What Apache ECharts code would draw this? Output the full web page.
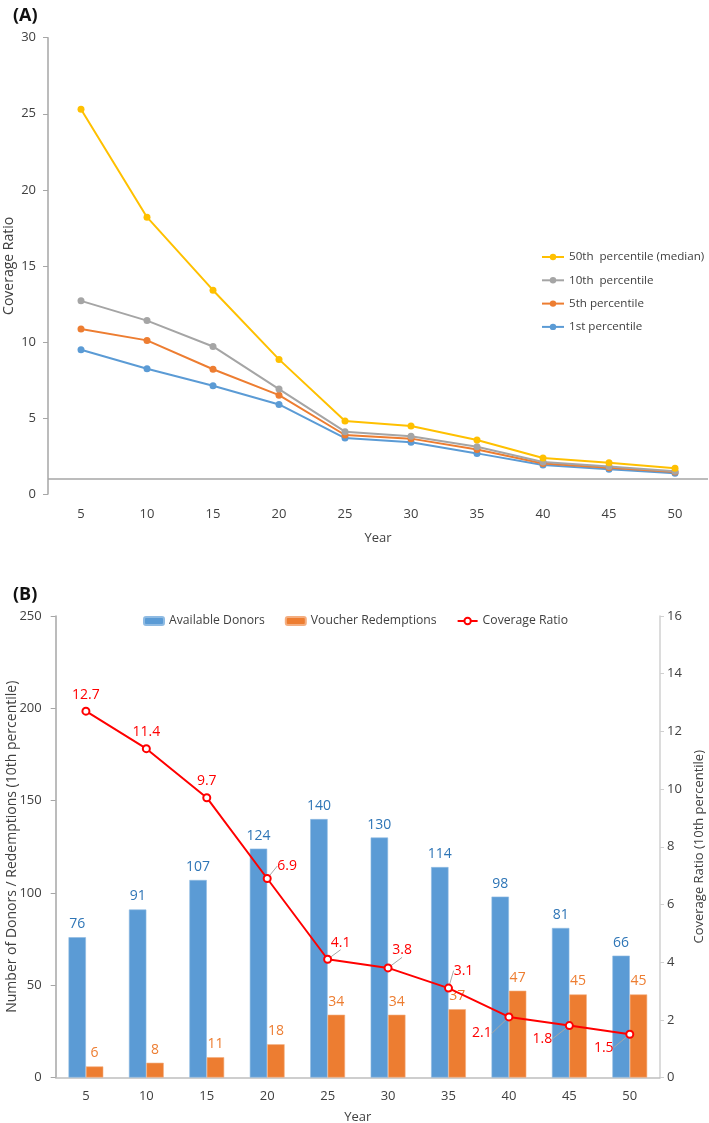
<!DOCTYPE html>
<html>
<head>
<meta charset="utf-8">
<script src="https://cdn.jsdelivr.net/npm/echarts@6/dist/echarts.min.js"></script>
<style>
  html, body { margin: 0; padding: 0; background: #fff; }
  #chart { width: 709px; height: 1123px; }
</style>
</head>
<body>
<div id="chart"></div>
<script>
// Years on the x axis (both panels)
const years = ['5', '10', '15', '20', '25', '30', '35', '40', '45', '50'];

// Panel A: coverage ratio by percentile
const p50 = [25.3, 18.2, 13.4, 8.85, 4.8, 4.47, 3.55, 2.37, 2.06, 1.69];
const p10 = [12.7, 11.4, 9.7, 6.9, 4.1, 3.8, 3.1, 2.1, 1.8, 1.5];
const p5 = [10.85, 10.1, 8.2, 6.5, 3.88, 3.64, 2.93, 2.0, 1.73, 1.45];
const p1 = [9.48, 8.24, 7.12, 5.89, 3.68, 3.4, 2.67, 1.9, 1.62, 1.36];

// Panel B: donors, redemptions and the 10th percentile coverage ratio
const donors = [76, 91, 107, 124, 140, 130, 114, 98, 81, 66];
const redemptions = [6, 8, 11, 18, 34, 34, 37, 47, 45, 45];
const coverage10 = [12.7, 11.4, 9.7, 6.9, 4.1, 3.8, 3.1, 2.1, 1.8, 1.5];

// where each coverage label gets nudged to (style only)
const labelShift = [[0, 0], [0, 0], [0, 0], [20, 4], [13, 0], [14, -1], [15, -1], [-27, 33], [-27, 30], [-26, 30]];

const FONT = 'Open Sans';
const TXT = '#404040';
const AX = '#a6a6a6';

const chart = echarts.init(document.getElementById('chart'));

function lineSeries(name, data, color) {
    return {
        name: name,
        type: 'line',
        xAxisIndex: 0,
        yAxisIndex: 0,
        data: data,
        symbol: 'circle',
        symbolSize: 7,
        lineStyle: { color: color, width: 2 },
        itemStyle: { color: color },
        z: 3
    };
}

const s1 = lineSeries('1st percentile', p1, '#5b9bd5');
// Excel draws the category axis crossing at 1
s1.markLine = {
    silent: true,
    symbol: ['none', 'none'],
    label: { show: false },
    lineStyle: { color: AX, width: 1.5, type: 'solid' },
    data: [{ yAxis: 1 }]
};

const option = {
    animation: false,
    textStyle: { fontFamily: FONT },
    title: [
        { text: '(A)', left: 8, top: 2, textStyle: { fontSize: 18, fontWeight: 'bold', color: '#111', fontFamily: FONT } },
        { text: '(B)', left: 8, top: 581, textStyle: { fontSize: 18, fontWeight: 'bold', color: '#111', fontFamily: FONT } }
    ],
    legend: [
        {
            orient: 'vertical',
            left: 541,
            top: 251,
            padding: 0,
            itemWidth: 22,
            itemHeight: 8,
            itemGap: 11.3,
            textStyle: { fontSize: 11.6, color: TXT, fontFamily: FONT },
            data: ['50th  percentile (median)', '10th  percentile', '5th percentile', '1st percentile']
        },
        {
            left: 143,
            top: 615,
            padding: 0,
            itemWidth: 20,
            itemHeight: 8,
            itemGap: 20,
            textStyle: { fontSize: 12.2, color: TXT, fontFamily: FONT },
            data: ['Available Donors', 'Voucher Redemptions', 'Coverage Ratio']
        }
    ],
    grid: [
        { left: 48, right: 1, top: 37.7, bottom: 629, containLabel: false, outerBoundsMode: 'none' },
        { left: 55.7, right: 49, top: 616, bottom: 45.5, containLabel: false, outerBoundsMode: 'none' }
    ],
    xAxis: [
        {
            gridIndex: 0,
            type: 'category',
            data: years,
            name: 'Year',
            nameLocation: 'middle',
            nameGap: 38,
            nameMoveOverlap: false,
            nameTextStyle: { fontSize: 13, color: TXT },
            axisLine: { show: false },
            axisTick: { show: false },
            axisLabel: { fontSize: 13, color: TXT, margin: 14 }
        },
        {
            gridIndex: 1,
            type: 'category',
            data: years,
            name: 'Year',
            nameLocation: 'middle',
            nameGap: 33,
            nameMoveOverlap: false,
            nameTextStyle: { fontSize: 13, color: TXT },
            axisLine: { lineStyle: { color: '#bfbfbf', width: 1.5 } },
            axisTick: { show: false },
            axisLabel: { fontSize: 13, color: TXT, margin: 12 }
        }
    ],
    yAxis: [
        {
            gridIndex: 0,
            type: 'value',
            min: 0,
            max: 30,
            interval: 5,
            name: 'Coverage Ratio',
            nameLocation: 'middle',
            nameGap: 32,
            nameMoveOverlap: false,
            nameTextStyle: { fontSize: 14, color: TXT },
            axisLine: { show: true, lineStyle: { color: AX, width: 1.5 } },
            axisTick: { show: true, length: 5, lineStyle: { color: AX } },
            axisLabel: { fontSize: 13, color: TXT, margin: 12 },
            splitLine: { show: false }
        },
        {
            gridIndex: 1,
            type: 'value',
            min: 0,
            max: 250,
            interval: 50,
            name: 'Number of Donors / Redemptions (10th percentile)',
            nameLocation: 'middle',
            nameGap: 37,
            nameMoveOverlap: false,
            nameTextStyle: { fontSize: 14, color: TXT },
            axisLine: { show: true, lineStyle: { color: AX, width: 1.5 } },
            axisTick: { show: true, length: 5, lineStyle: { color: AX } },
            axisLabel: { fontSize: 13, color: TXT, margin: 14 },
            splitLine: { show: false }
        },
        {
            gridIndex: 1,
            type: 'value',
            position: 'right',
            min: 0,
            max: 16,
            interval: 2,
            name: 'Coverage Ratio (10th percentile)',
            nameLocation: 'middle',
            nameGap: 33,
            nameMoveOverlap: false,
            nameTextStyle: { fontSize: 13, color: TXT },
            axisLine: { show: true, lineStyle: { color: '#d0d0d0', width: 1.5 } },
            axisTick: { show: true, length: 4, lineStyle: { color: '#d0d0d0' } },
            axisLabel: { fontSize: 13, color: TXT, margin: 7 },
            splitLine: { show: false }
        }
    ],
    series: [
        s1,
        lineSeries('5th percentile', p5, '#ed7d31'),
        lineSeries('10th  percentile', p10, '#a5a5a5'),
        lineSeries('50th  percentile (median)', p50, '#ffc000'),
        {
            name: 'Available Donors',
            type: 'bar',
            xAxisIndex: 1,
            yAxisIndex: 1,
            data: donors,
            barWidth: 17.4,
            barGap: '0%',
            itemStyle: { color: '#5b9bd5', borderColor: '#8fbbe3', borderWidth: 0.6 },
            label: { show: true, position: 'top', distance: 6, fontSize: 14, color: '#2e75b6' }
        },
        {
            name: 'Voucher Redemptions',
            type: 'bar',
            xAxisIndex: 1,
            yAxisIndex: 1,
            data: redemptions,
            barWidth: 17.4,
            barGap: '0%',
            itemStyle: { color: '#ed7d31', borderColor: '#f4ae80', borderWidth: 0.6 },
            label: { show: true, position: 'top', distance: 6, fontSize: 14, color: '#ed7d31' }
        },
        {
            name: 'Coverage Ratio',
            type: 'line',
            xAxisIndex: 1,
            yAxisIndex: 2,
            data: coverage10.map((v, i) => ({
                value: v,
                labelLine: { show: i > 2 }
            })),
            symbol: 'emptyCircle',
            symbolSize: 7,
            lineStyle: { color: '#ff0000', width: 2 },
            itemStyle: { color: '#ff0000', borderWidth: 1.2 },
            label: { show: true, position: 'top', distance: 5, fontSize: 14, color: '#ff0000' },
            labelLine: { show: true, lineStyle: { color: '#a6a6a6', width: 1 } },
            labelLayout: function (params) {
                const d = labelShift[params.dataIndex];
                return { dx: d[0], dy: d[1] };
            },
            z: 5
        }
    ]
};

chart.setOption(option);
</script>
</body>
</html>
